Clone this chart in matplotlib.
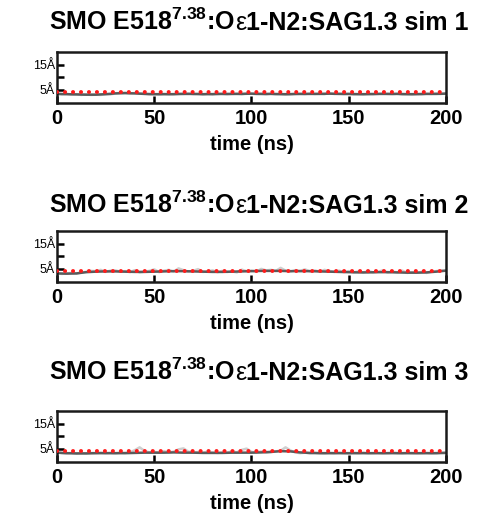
import numpy as np
import matplotlib
matplotlib.use("Agg")
import matplotlib.pyplot as plt

plt.rcParams['font.family'] = ['Liberation Sans', 'DejaVu Sans']
plt.rcParams['mathtext.fontset'] = 'custom'
plt.rcParams['mathtext.rm'] = 'Liberation Sans:bold'
plt.rcParams['mathtext.bf'] = 'Liberation Sans:bold'

# ---- data ----
time_smooth = np.linspace(0, 200, 41)
time_raw = np.linspace(0, 200, 81)
cutoff = 4.0

sim1_smooth = [3.4, 3.3, 3.2, 3.1, 3.1, 3.3, 3.6, 3.7, 3.6, 3.4, 3.3, 3.3, 3.3, 3.4, 3.4, 3.3,
               3.3, 3.4, 3.4, 3.4, 3.5, 3.4, 3.4, 3.3, 3.3, 3.4, 3.4, 3.4, 3.5, 3.4, 3.4, 3.3,
               3.3, 3.4, 3.4, 3.4, 3.3, 3.3, 3.4, 3.4, 3.5]
sim1_raw = [3.6, 3.2, 3.4, 3.1, 3.3, 3.0, 3.2, 3.0, 3.1, 3.0, 3.3, 3.2, 3.6, 3.8, 3.9, 3.6,
            3.7, 3.5, 3.5, 3.2, 3.3, 3.1, 3.4, 3.2, 3.3, 3.5, 3.4, 3.6, 3.3, 3.4, 3.2, 3.5,
            3.3, 3.6, 3.4, 3.2, 3.4, 3.5, 3.3, 3.6, 3.5, 3.3, 3.4, 3.2, 3.5, 3.3, 3.4, 3.1,
            3.3, 3.5, 3.4, 3.3, 3.6, 3.4, 3.5, 3.3, 3.7, 3.4, 3.5, 3.3, 3.4, 3.2, 3.3, 3.2,
            3.5, 3.3, 3.4, 3.6, 3.4, 3.3, 3.5, 3.2, 3.3, 3.1, 3.4, 3.3, 3.5, 3.4, 3.6, 3.4, 3.7]

sim2_smooth = [3.2, 3.1, 3.2, 3.7, 3.9, 4.0, 4.0, 3.9, 3.8, 3.8, 3.9, 4.0, 4.1, 4.1, 4.0, 3.9,
               3.8, 3.8, 3.9, 4.0, 4.1, 4.2, 4.2, 4.2, 4.1, 4.1, 4.1, 4.0, 3.9, 3.8, 3.7, 3.6,
               3.6, 3.7, 3.7, 3.6, 3.5, 3.5, 3.6, 3.9, 4.3]
sim2_raw = [3.3, 3.0, 3.2, 3.4, 3.1, 3.6, 3.8, 4.2, 4.1, 4.6, 3.8, 4.3, 4.4, 3.9, 4.1, 3.7,
            4.5, 3.6, 3.9, 4.2, 4.8, 3.7, 4.3, 4.6, 3.9, 5.2, 4.5, 3.9, 4.2, 4.9, 3.8, 4.0,
            4.4, 3.7, 4.2, 3.8, 4.0, 3.6, 4.7, 4.1, 4.3, 3.9, 5.0, 4.4, 4.6, 4.2, 5.4, 4.3,
            3.9, 4.5, 4.2, 4.8, 4.0, 4.4, 3.9, 4.6, 4.2, 3.8, 4.3, 3.7, 4.1, 3.6, 4.0, 3.5,
            4.2, 3.6, 3.8, 4.4, 3.5, 3.9, 3.6, 4.3, 3.4, 3.7, 3.5, 3.8, 3.4, 3.9, 4.1, 4.4, 4.3]

sim3_smooth = [3.5, 3.3, 3.2, 3.2, 3.3, 3.3, 3.3, 3.3, 3.4, 3.5, 3.5, 3.5, 3.6, 3.5, 3.5, 3.4,
               3.4, 3.4, 3.5, 3.5, 3.5, 3.6, 3.8, 4.1, 4.0, 3.6, 3.4, 3.3, 3.3, 3.3, 3.3, 3.3,
               3.3, 3.3, 3.3, 3.3, 3.3, 3.3, 3.3, 3.3, 3.4]
sim3_raw = [3.7, 3.3, 3.2, 3.4, 3.1, 3.3, 3.2, 3.4, 3.3, 3.5, 3.3, 3.4, 3.2, 3.5, 3.4, 3.6,
            4.5, 5.6, 4.2, 3.6, 3.8, 3.5, 4.1, 3.6, 3.9, 4.8, 5.2, 3.9, 3.6, 3.7, 3.5, 3.9,
            3.6, 3.4, 3.6, 3.5, 4.0, 3.6, 4.6, 5.1, 3.8, 3.6, 4.0, 3.5, 3.7, 4.0, 4.3, 5.6,
            4.4, 3.6, 3.3, 3.5, 3.2, 3.4, 3.3, 3.2, 3.4, 3.3, 3.5, 3.3, 3.2, 3.4, 3.3, 3.5,
            3.2, 3.3, 3.4, 3.2, 3.3, 3.5, 3.3, 3.2, 3.4, 3.3, 3.2, 3.3, 3.4, 3.2, 3.3, 3.5, 3.6]

sims = [(sim1_smooth, sim1_raw), (sim2_smooth, sim2_raw), (sim3_smooth, sim3_raw)]
title_heads = [r'SMO E518$^{\mathbf{7.38}}$:O' for _ in range(3)]
title_tails = ['1-N2:SAG1.3 sim %d' % i for i in (1, 2, 3)]
xticks = [0, 50, 100, 150, 200]
yticks = [5, 10, 15]
ytick_labels = ['5Å', '', '15Å']

W, H = 489, 521
fig = plt.figure(figsize=(W / 100, H / 100), dpi=100)

boxes = [(52, 102.5), (231, 281.5), (411, 461.5)]
title_base = [30, 213, 380]
left, right = 57, 446

for (smooth, raw), (top, bot) in zip(sims, boxes):
    ax = fig.add_axes([left / W, 1 - bot / H, (right - left) / W, (bot - top) / H])
    ax.plot(time_raw, raw, color='#cfcfcf', lw=1.8, zorder=1)
    ax.plot(time_smooth, smooth, color='#5a5a5a', lw=1.8, zorder=2)
    ax.axhline(cutoff, color='#ff1a1a', lw=2.8, linestyle=(0, (0.05, 2.0)),
               dash_capstyle='round', zorder=3)
    ax.set_xlim(0, 200)
    ax.set_ylim(0, 20)
    ax.set_xticks(xticks)
    ax.set_xticklabels([str(t) for t in xticks], fontsize=14.5, fontweight='bold')
    ax.set_yticks(yticks)
    ax.set_yticklabels(ytick_labels, fontsize=9)
    ax.tick_params(axis='x', direction='in', length=5, width=1.8, pad=5)
    ax.tick_params(axis='y', direction='in', length=5, width=1.8, pad=1.5)
    for s in ax.spines.values():
        s.set_linewidth(1.8)
        s.set_color('#1a1a1a')
    ax.set_xlabel('time (ns)', fontsize=14.5, fontweight='bold', labelpad=5)

fig.canvas.draw()
renderer = fig.canvas.get_renderer()
fs = 18
for head, tail, tb in zip(title_heads, title_tails, title_base):
    y = 1 - tb / H
    pieces = [(head, 'bold'), ('ε', 'normal'), (tail, 'bold')]
    widths = []
    for txt, fw in pieces:
        t = fig.text(0, 0, txt, fontsize=fs, fontweight=fw)
        widths.append(t.get_window_extent(renderer).width)
        t.remove()
    x = 259 - sum(widths) / 2
    for (txt, fw), w in zip(pieces, widths):
        fig.text(x / W, y, txt, fontsize=fs, fontweight=fw, ha='left', va='baseline')
        x += w

fig.savefig('out.png', dpi=100)
